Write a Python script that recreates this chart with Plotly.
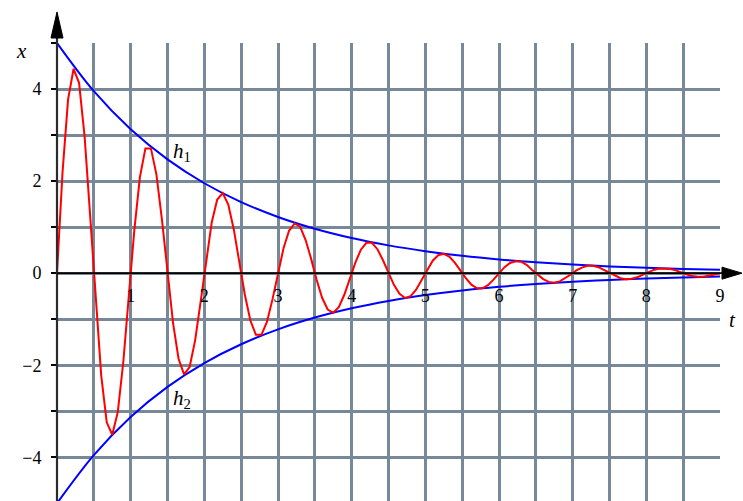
import plotly.graph_objects as go

# Sampled damped oscillation x(t), one sample every 0.075 time units from t = 0 to t = 9
T_START = 0.0
T_STEP = 0.075
x_vals = [
    0, 2.19, 3.77, 4.44, 4.13, 2.96, 1.25, -0.61, -2.22, -3.24,
    -3.51, -3.02, -1.93, -0.49, 0.94, 2.08, 2.71, 2.71, 2.14, 1.16,
    0, -1.08, -1.86, -2.20, -2.04, -1.46, -0.62, 0.30, 1.10, 1.60,
    1.74, 1.49, 0.95, 0.24, -0.47, -1.03, -1.34, -1.34, -1.06, -0.57,
    0, 0.54, 0.92, 1.08, 1.01, 0.72, 0.31, -0.15, -0.54, -0.79,
    -0.86, -0.74, -0.47, -0.12, 0.23, 0.51, 0.66, 0.66, 0.52, 0.28,
    0, -0.26, -0.45, -0.54, -0.50, -0.36, -0.15, 0.07, 0.27, 0.39,
    0.42, 0.36, 0.23, 0.06, -0.11, -0.25, -0.33, -0.33, -0.26, -0.14,
    0, 0.13, 0.22, 0.26, 0.25, 0.18, 0.07, -0.04, -0.13, -0.19,
    -0.21, -0.18, -0.11, -0.03, 0.06, 0.12, 0.16, 0.16, 0.13, 0.07,
    0, -0.06, -0.11, -0.13, -0.12, -0.09, -0.04, 0.02, 0.07, 0.10,
    0.10, 0.09, 0.06, 0.01, -0.03, -0.06, -0.08, -0.08, -0.06, -0.03,
    0,
]

# Envelopes h1 (upper) and h2 (lower), one value every 0.5 time units
ENV_STEP = 0.5
h1_vals = [5.0, 3.953, 3.125, 2.471, 1.953, 1.544, 1.221, 0.965, 0.763, 0.603,
           0.477, 0.377, 0.298, 0.236, 0.186, 0.147, 0.116, 0.092, 0.073]
h2_vals = [-5.0, -3.953, -3.125, -2.471, -1.953, -1.544, -1.221, -0.965, -0.763, -0.603,
           -0.477, -0.377, -0.298, -0.236, -0.186, -0.147, -0.116, -0.092, -0.073]

# Axis ticks
x_tick_vals = [0, 0.5, 1, 1.5, 2, 2.5, 3, 3.5, 4, 4.5, 5, 5.5, 6, 6.5, 7, 7.5, 8, 8.5, 9]
x_tick_text = ["", "", "1", "", "2", "", "3", "", "4", "", "5", "", "6", "", "7", "", "8", "", "9"]
y_tick_vals = [-4, -3, -2, -1, 0, 1, 2, 3, 4, 5]
y_tick_text = ["\u22124", "", "\u22122", "", "0", "", "2", "", "4", ""]

# Figure geometry
W, H = 743, 501
ML, MR, MT, MB = 57, 23, 43, 0
X_RANGE = [0, 9]
Y_RANGE = [-4.95, 5]
PW, PH = W - ML - MR, H - MT - MB

GRID = "#778899"
FONT = "Liberation Serif"


def px_x(px):
    return (px - ML) / PW


def px_y(py):
    return (H - MB - py) / PH


y_zero_paper = (0 - Y_RANGE[0]) / (Y_RANGE[1] - Y_RANGE[0])
y_zero_px = H - MB - y_zero_paper * PH

fig = go.Figure()
fig.add_trace(go.Scatter(y=h1_vals, x0=T_START, dx=ENV_STEP, mode="lines",
                         line=dict(color="#0000ff", width=2, shape="spline"),
                         hoverinfo="skip", showlegend=False))
fig.add_trace(go.Scatter(y=h2_vals, x0=T_START, dx=ENV_STEP, mode="lines",
                         line=dict(color="#0000ff", width=2, shape="spline"),
                         hoverinfo="skip", showlegend=False))
fig.add_trace(go.Scatter(y=x_vals, x0=T_START, dx=T_STEP, mode="lines",
                         line=dict(color="#ff0000", width=2),
                         hoverinfo="skip", showlegend=False))

# Axis lines with arrowheads
head_len, head_half = 26, 6
fig.add_shape(type="line", xref="paper", yref="paper",
              x0=0, x1=0, y0=px_y(H), y1=px_y(12 + head_len - 2),
              line=dict(color="#2b2b2b", width=2.2), layer="above")
fig.add_shape(type="path", xref="paper", yref="paper",
              path=(f"M {px_x(ML)},{px_y(12)} "
                    f"L {px_x(ML - head_half)},{px_y(12 + head_len)} "
                    f"L {px_x(ML + head_half)},{px_y(12 + head_len)} Z"),
              fillcolor="black", line=dict(color="black", width=1), layer="above")
tip_x = W - 1
fig.add_shape(type="line", xref="paper", yref="paper",
              x0=0, x1=px_x(tip_x - 20), y0=y_zero_paper, y1=y_zero_paper,
              line=dict(color="black", width=1.8), layer="above")
fig.add_shape(type="path", xref="paper", yref="paper",
              path=(f"M {px_x(tip_x)},{y_zero_paper} "
                    f"L {px_x(tip_x - 20)},{px_y(y_zero_px - head_half)} "
                    f"L {px_x(tip_x - 20)},{px_y(y_zero_px + head_half)} Z"),
              fillcolor="black", line=dict(color="black", width=1), layer="above")

label_font = dict(family=FONT, size=21, color="black")
fig.add_annotation(text="<i>x</i>", xref="paper", yref="paper",
                   x=px_x(14), y=px_y(37), showarrow=False, font=label_font)
fig.add_annotation(text="<i>t</i>", xref="paper", yref="paper",
                   x=px_x(738), y=px_y(320), showarrow=False, font=label_font)
fig.add_annotation(text="<i>h</i><sub>1</sub>", x=1.70, y=2.63, showarrow=False,
                   font=label_font)
fig.add_annotation(text="<i>h</i><sub>2</sub>", x=1.70, y=-2.73, showarrow=False,
                   font=label_font)

tick_font = dict(family=FONT, size=18, color="black")
fig.update_layout(
    width=W, height=H,
    margin=dict(l=ML, r=MR, t=MT, b=MB, pad=0),
    paper_bgcolor="white", plot_bgcolor="white",
    template="none",
    font=dict(family=FONT),
    showlegend=False,
    xaxis=dict(range=X_RANGE, tickmode="array", tickvals=x_tick_vals, ticktext=x_tick_text,
               showgrid=True, gridcolor=GRID, gridwidth=3, zeroline=False, showline=False,
               ticks="", anchor="free", position=y_zero_paper, tickfont=tick_font,
               ticklabelstandoff=10, fixedrange=True),
    yaxis=dict(range=Y_RANGE, tickmode="array", tickvals=y_tick_vals, ticktext=y_tick_text,
               showgrid=True, gridcolor=GRID, gridwidth=3, zeroline=False, showline=False,
               ticks="outside", ticklen=5, tickwidth=1.5, tickcolor="black",
               tickfont=tick_font, ticklabelstandoff=6, fixedrange=True),
)

fig.write_html("out.html")
